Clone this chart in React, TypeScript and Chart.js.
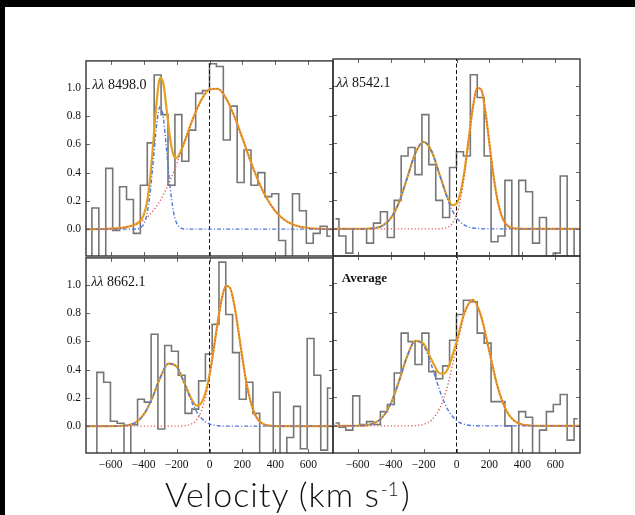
import React, { useEffect, useRef } from 'react';
import { Chart, registerables } from 'chart.js';

Chart.register(...registerables);

// ---------- axis limits & ticks ----------
const X_MIN = -750;
const X_MAX = 750;
const Y_MIN = -0.19;
const Y_MAX = 1.19;
const X_TICKS = [-600, -400, -200, 0, 200, 400, 600];
const Y_TICKS = [0, 0.2, 0.4, 0.6, 0.8, 1.0];

// ---------- histogram bins (velocity, km/s) ----------
const BIN_CENTERS = [-735, -693, -651, -609, -567, -525, -483, -441, -399, -357, -315, -273, -231, -189, -147, -105, -63, -21, 21, 63, 105, 147, 189, 231, 273, 315, 357, 399, 441, 483, 525, 567, 609, 651, 693, 735];
const BIN_CENTERS_8662 = [-745.8, -704.6, -663.4, -622.2, -581.0, -539.8, -498.6, -457.4, -416.2, -375.0, -333.8, -292.6, -251.4, -210.2, -169.0, -127.8, -86.6, -45.4, -4.2, 37.0, 78.2, 119.4, 160.6, 201.8, 243.0, 284.2, 325.4, 366.6, 407.8, 449.0, 490.2, 531.4, 572.6, 613.8, 655.0, 696.2, 737.4];

const HIST_8498 = [-0.3, 0.15, -0.3, 0.43, -0.01, 0.30, 0.21, -0.03, 0.31, 0.61, 1.09, 0.81, 0.31, 0.81, 0.48, 0.70, 0.96, 0.98, 1.17, 1.15, 0.63, 0.87, 0.33, 0.56, 0.31, 0.40, 0.23, 0.25, -0.08, -0.3, 0.25, 0.13, -0.10, -0.03, 0.02, -0.05];
const HIST_8542 = [0.07, -0.05, -0.17, 0.0, 0.0, -0.10, 0.04, 0.12, -0.06, 0.20, 0.51, 0.57, 0.38, 0.80, 0.45, 0.20, 0.08, 0.43, 0.54, 0.51, 1.08, 0.92, 0.51, -0.09, -0.05, 0.34, -0.3, 0.34, 0.26, -0.10, 0.08, -0.3, -0.17, 0.37, -0.3, 0.0];
const HIST_8662 = [-0.3, -0.3, 0.38, 0.31, 0.035, 0.02, -0.3, 0.01, 0.19, 0.17, 0.65, -0.02, 0.57, 0.53, 0.36, 0.09, 0.12, 0.32, 0.51, 0.72, 1.16, 0.79, 0.52, 0.19, 0.31, 0.09, -0.3, -0.3, 0.24, -0.3, -0.08, 0.14, -0.16, 0.62, 0.36, -0.17, 0.27];
const HIST_AVG = [0.02, -0.01, -0.03, 0.21, 0.01, 0.03, 0.01, 0.10, 0.15, 0.37, 0.65, 0.59, 0.43, 0.65, 0.38, 0.33, 0.42, 0.60, 0.78, 0.88, 0.87, 0.65, 0.58, 0.17, 0.17, 0.0, -0.3, 0.10, 0.06, -0.3, -0.03, 0.10, 0.15, 0.22, -0.10, 0.05];

// ---------- fitted profiles ----------
const FIT_V_8498 = [-750, -700, -650, -600, -550, -500, -460, -440, -420, -400, -380, -360, -340, -320, -300, -280, -260, -240, -220, -200, -180, -160, -140, -100, -50, 0, 50, 100, 150, 200, 250, 300, 350, 400, 450, 500, 550, 600, 650, 700, 750];
const TOTAL_8498 = [0, 0, 0.001, 0.003, 0.007, 0.016, 0.029, 0.040, 0.059, 0.099, 0.189, 0.368, 0.634, 0.912, 1.070, 1.029, 0.844, 0.647, 0.529, 0.504, 0.536, 0.592, 0.656, 0.783, 0.913, 0.988, 0.993, 0.926, 0.801, 0.643, 0.479, 0.331, 0.213, 0.127, 0.070, 0.036, 0.017, 0.008, 0.003, 0.001, 0];
const BLUE_8498 = [0, 0, 0, 0, 0, 0, 0, 0.002, 0.009, 0.034, 0.106, 0.262, 0.502, 0.748, 0.869, 0.786, 0.554, 0.305, 0.130, 0.044, 0.012, 0.002, 0, 0, 0, 0, 0, 0, 0, 0, 0, 0, 0, 0, 0, 0, 0, 0, 0, 0, 0];
const RED_8498 = [0, 0, 0.001, 0.003, 0.007, 0.016, 0.029, 0.038, 0.050, 0.065, 0.083, 0.106, 0.132, 0.164, 0.201, 0.243, 0.290, 0.342, 0.399, 0.460, 0.524, 0.590, 0.656, 0.783, 0.913, 0.988, 0.993, 0.926, 0.801, 0.643, 0.479, 0.331, 0.213, 0.127, 0.070, 0.036, 0.017, 0.008, 0.003, 0.001, 0];

const FIT_V_8542 = [-750, -700, -650, -600, -550, -500, -450, -400, -350, -300, -250, -200, -150, -100, -50, -25, 0, 25, 50, 75, 100, 125, 150, 175, 200, 225, 250, 275, 300, 325, 350, 400, 450, 500, 550, 600, 650, 700, 750];
const TOTAL_8542 = [0, 0, 0, 0, 0.001, 0.005, 0.022, 0.073, 0.183, 0.355, 0.530, 0.610, 0.541, 0.371, 0.208, 0.166, 0.176, 0.258, 0.419, 0.639, 0.855, 0.988, 0.977, 0.826, 0.597, 0.369, 0.195, 0.088, 0.034, 0.011, 0.003, 0, 0, 0, 0, 0, 0, 0, 0];
const BLUE_8542 = [0, 0, 0, 0, 0.001, 0.005, 0.022, 0.073, 0.183, 0.355, 0.530, 0.610, 0.541, 0.370, 0.195, 0.128, 0.079, 0.046, 0.025, 0.013, 0.006, 0.003, 0.001, 0, 0, 0, 0, 0, 0, 0, 0, 0, 0, 0, 0, 0, 0, 0, 0];
const RED_8542 = [0, 0, 0, 0, 0, 0, 0, 0, 0, 0, 0, 0, 0, 0.001, 0.013, 0.038, 0.097, 0.212, 0.394, 0.626, 0.849, 0.985, 0.976, 0.826, 0.597, 0.369, 0.195, 0.088, 0.034, 0.011, 0.003, 0, 0, 0, 0, 0, 0, 0, 0];

const FIT_V_8662 = [-750, -700, -650, -600, -550, -500, -450, -400, -350, -300, -250, -200, -150, -100, -75, -50, -25, 0, 25, 50, 75, 100, 125, 150, 175, 200, 225, 250, 275, 300, 325, 350, 400, 450, 500, 550, 600, 650, 700, 750];
const TOTAL_8662 = [0, 0, 0, 0, 0.001, 0.006, 0.025, 0.081, 0.193, 0.341, 0.442, 0.421, 0.297, 0.172, 0.145, 0.163, 0.234, 0.364, 0.541, 0.737, 0.903, 0.993, 0.977, 0.861, 0.679, 0.479, 0.302, 0.171, 0.086, 0.039, 0.016, 0.006, 0, 0, 0, 0, 0, 0, 0, 0];
const BLUE_8662 = [0, 0, 0, 0, 0.001, 0.006, 0.025, 0.081, 0.193, 0.341, 0.442, 0.421, 0.294, 0.151, 0.096, 0.057, 0.031, 0.016, 0.007, 0.003, 0.001, 0, 0, 0, 0, 0, 0, 0, 0, 0, 0, 0, 0, 0, 0, 0, 0, 0, 0, 0];
const RED_8662 = [0, 0, 0, 0, 0, 0, 0, 0, 0, 0, 0, 0, 0.003, 0.021, 0.049, 0.106, 0.203, 0.348, 0.534, 0.734, 0.902, 0.993, 0.977, 0.861, 0.679, 0.479, 0.302, 0.171, 0.086, 0.039, 0.016, 0.006, 0, 0, 0, 0, 0, 0, 0, 0];

const FIT_V_AVG = [-750, -700, -650, -600, -550, -500, -450, -400, -350, -300, -250, -200, -150, -100, -75, -50, 0, 50, 100, 150, 200, 250, 300, 350, 400, 450, 500, 550, 600, 650, 700, 750];
const TOTAL_AVG = [0, 0, 0, 0.001, 0.004, 0.018, 0.060, 0.154, 0.310, 0.486, 0.595, 0.575, 0.460, 0.367, 0.367, 0.407, 0.588, 0.798, 0.882, 0.765, 0.518, 0.273, 0.112, 0.036, 0.009, 0.002, 0, 0, 0, 0, 0, 0];
const BLUE_AVG = [0, 0, 0, 0.001, 0.004, 0.018, 0.060, 0.154, 0.310, 0.486, 0.593, 0.564, 0.418, 0.241, 0.167, 0.108, 0.038, 0.010, 0.002, 0, 0, 0, 0, 0, 0, 0, 0, 0, 0, 0, 0, 0];
const RED_AVG = [0, 0, 0, 0, 0, 0, 0, 0, 0, 0, 0.002, 0.011, 0.042, 0.126, 0.200, 0.299, 0.550, 0.788, 0.880, 0.765, 0.518, 0.273, 0.112, 0.036, 0.009, 0.002, 0, 0, 0, 0, 0, 0];

// ---------- styling ----------
const COLOR_HIST = '#767676';
const COLOR_TOTAL = '#E6A21C';
const COLOR_BLUE = '#5276e0';
const COLOR_RED = '#dd5a5a';
const FONT_TICK = 'Liberation Serif';

type PanelDef = {
  key: string;
  left: number;
  top: number;
  w: number;
  h: number;
  showX: boolean;
  showY: boolean;
  prefix: string;
  title: string;
  bold: boolean;
  labelSize: number;
  labelX: number;
  labelY: number;
  bins: number[];
  hist: number[];
  fitV: number[];
  total: number[];
  blue: number[];
  red: number[];
};

const PANELS: PanelDef[] = [
  { key: 'a', left: 86, top: 59, w: 247, h: 197, showX: false, showY: true, prefix: 'λλ', title: ' 8498.0', bold: false, labelSize: 14, labelX: -712, labelY: 1.02, bins: BIN_CENTERS, hist: HIST_8498, fitV: FIT_V_8498, total: TOTAL_8498, blue: BLUE_8498, red: RED_8498 },
  { key: 'b', left: 333, top: 59, w: 247, h: 197, showX: false, showY: false, prefix: 'λλ', title: ' 8542.1', bold: false, labelSize: 14, labelX: -729, labelY: 1.02, bins: BIN_CENTERS, hist: HIST_8542, fitV: FIT_V_8542, total: TOTAL_8542, blue: BLUE_8542, red: RED_8542 },
  { key: 'c', left: 86, top: 256, w: 247, h: 197, showX: true, showY: true, prefix: 'λλ', title: ' 8662.1', bold: false, labelSize: 14, labelX: -718, labelY: 1.02, bins: BIN_CENTERS_8662, hist: HIST_8662, fitV: FIT_V_8662, total: TOTAL_8662, blue: BLUE_8662, red: RED_8662 },
  { key: 'd', left: 333, top: 256, w: 247, h: 197, showX: true, showY: false, prefix: '', title: 'Average', bold: true, labelSize: 13, labelX: -697, labelY: 1.03, bins: BIN_CENTERS, hist: HIST_AVG, fitV: FIT_V_AVG, total: TOTAL_AVG, blue: BLUE_AVG, red: RED_AVG },
];

const PAD_L = 45;
const PAD_T = 10;
const PAD_R = 10;
const PAD_B = 25;

const framePlugin = {
  id: 'frame',
  afterDatasetsDraw(chart: any, _args: any, opts: any) {
    const { ctx, chartArea: a, scales } = chart;
    const xs = scales.x;
    const ys = scales.y;
    ctx.save();
    // inward ticks on all four sides
    ctx.beginPath();
    ctx.strokeStyle = '#666';
    ctx.lineWidth = 1;
    const L = 4;
    X_TICKS.forEach((v) => {
      const px = Math.round(xs.getPixelForValue(v)) + 0.5;
      ctx.moveTo(px, a.bottom);
      ctx.lineTo(px, a.bottom - L);
      ctx.moveTo(px, a.top);
      ctx.lineTo(px, a.top + L);
    });
    Y_TICKS.forEach((v) => {
      const py = Math.round(ys.getPixelForValue(v)) + 0.5;
      ctx.moveTo(a.left, py);
      ctx.lineTo(a.left + L, py);
      ctx.moveTo(a.right, py);
      ctx.lineTo(a.right - L, py);
    });
    ctx.stroke();
    // frame
    ctx.strokeStyle = '#333';
    ctx.lineWidth = 1.4;
    ctx.strokeRect(a.left, a.top, a.right - a.left, a.bottom - a.top);
    // panel label
    const tx = xs.getPixelForValue(opts.labelX);
    const ty = ys.getPixelForValue(opts.labelY);
    ctx.fillStyle = '#111';
    ctx.textBaseline = 'middle';
    ctx.textAlign = 'left';
    let x = tx;
    if (opts.prefix) {
      ctx.font = `italic ${opts.size}px ${FONT_TICK}`;
      ctx.fillText(opts.prefix, x, ty);
      x += ctx.measureText(opts.prefix).width;
    }
    ctx.font = `${opts.bold ? 'bold ' : ''}${opts.size}px ${FONT_TICK}`;
    ctx.fillText(opts.title, x, ty);
    ctx.restore();
  },
};

function buildConfig(p: PanelDef): any {
  const histData = p.bins.map((x, i) => ({ x, y: p.hist[i] }));
  const total = p.fitV.map((x, i) => ({ x, y: p.total[i] }));
  const blue = p.fitV.map((x, i) => ({ x, y: p.blue[i] }));
  const red = p.fitV.map((x, i) => ({ x, y: p.red[i] }));
  const zero = [{ x: 0, y: Y_MIN }, { x: 0, y: Y_MAX }];
  return {
    type: 'line',
    data: {
      datasets: [
        { data: red, borderColor: COLOR_RED, borderWidth: 1.4, borderDash: [1.2, 2.2], cubicInterpolationMode: 'monotone' },
        { data: blue, borderColor: COLOR_BLUE, borderWidth: 1.4, borderDash: [4, 2, 1.2, 2], cubicInterpolationMode: 'monotone' },
        { data: total, borderColor: COLOR_TOTAL, borderWidth: 2.2, cubicInterpolationMode: 'monotone' },
        { data: zero, borderColor: '#111', borderWidth: 1, borderDash: [4, 2.5] },
        { data: histData, borderColor: COLOR_HIST, borderWidth: 1.6, stepped: 'middle' },
      ],
    },
    options: {
      animation: false,
      responsive: false,
      events: [],
      layout: { padding: { top: PAD_T, right: PAD_R, left: 0, bottom: 0 } },
      elements: { point: { radius: 0 }, line: { tension: 0 } },
      plugins: {
        legend: { display: false },
        tooltip: { enabled: false },
        frame: { labelX: p.labelX, labelY: p.labelY, prefix: p.prefix, title: p.title, bold: p.bold, size: p.labelSize },
      },
      scales: {
        x: {
          type: 'linear',
          min: X_MIN,
          max: X_MAX,
          afterBuildTicks: (s: any) => { s.ticks = X_TICKS.map((value) => ({ value })); },
          afterFit: (s: any) => { s.height = PAD_B; },
          grid: { display: false, drawTicks: false },
          border: { display: false },
          ticks: {
            display: p.showX,
            padding: 5,
            color: '#111',
            font: { family: FONT_TICK, size: 11.5 },
            maxRotation: 0,
            autoSkip: false,
            callback: (v: number) => (v < 0 ? '\u2212' + Math.abs(v) : String(v)),
          },
        },
        y: {
          type: 'linear',
          min: Y_MIN,
          max: Y_MAX,
          afterBuildTicks: (s: any) => { s.ticks = Y_TICKS.map((value) => ({ value })); },
          afterFit: (s: any) => { s.width = PAD_L; },
          grid: { display: false, drawTicks: false },
          border: { display: false },
          ticks: {
            display: p.showY,
            padding: 5,
            color: '#111',
            font: { family: FONT_TICK, size: 11.5 },
            callback: (v: number) => v.toFixed(1),
          },
        },
      },
    },
    plugins: [framePlugin],
  };
}

function Panel({ p }: { p: PanelDef }) {
  const ref = useRef<HTMLCanvasElement>(null);
  const W = p.w + PAD_L + PAD_R;
  const H = p.h + PAD_T + PAD_B;
  useEffect(() => {
    const chart = new Chart(ref.current as HTMLCanvasElement, buildConfig(p));
    return () => chart.destroy();
  }, [p]);
  return (
    <canvas
      ref={ref}
      width={W}
      height={H}
      style={{ position: 'absolute', left: p.left - PAD_L, top: p.top - PAD_T, width: W, height: H }}
    />
  );
}

export default function App() {
  return (
    <div style={{ position: 'fixed', left: 0, top: 0, width: 635, height: 515, background: '#fff', overflow: 'hidden' }}>
      <div style={{ position: 'absolute', left: 0, top: 0, width: 635, height: 7, background: '#000' }} />
      <div style={{ position: 'absolute', left: 0, top: 0, width: 5, height: 515, background: '#000' }} />
      {PANELS.map((p) => (
        <Panel key={p.key} p={p} />
      ))}
      <div
        style={{
          position: 'absolute',
          left: 165,
          top: 474,
          fontFamily: 'Lato, "Open Sans", sans-serif',
          fontWeight: 300,
          fontSize: 34,
          letterSpacing: 1,
          lineHeight: '40px',
          color: '#111',
          whiteSpace: 'nowrap',
        }}
      >
        Velocity (km s<span style={{ fontSize: 19, verticalAlign: 'top', position: 'relative', top: -5, letterSpacing: 0, marginLeft: 1, marginRight: 2 }}>-1</span>)
      </div>
    </div>
  );
}
